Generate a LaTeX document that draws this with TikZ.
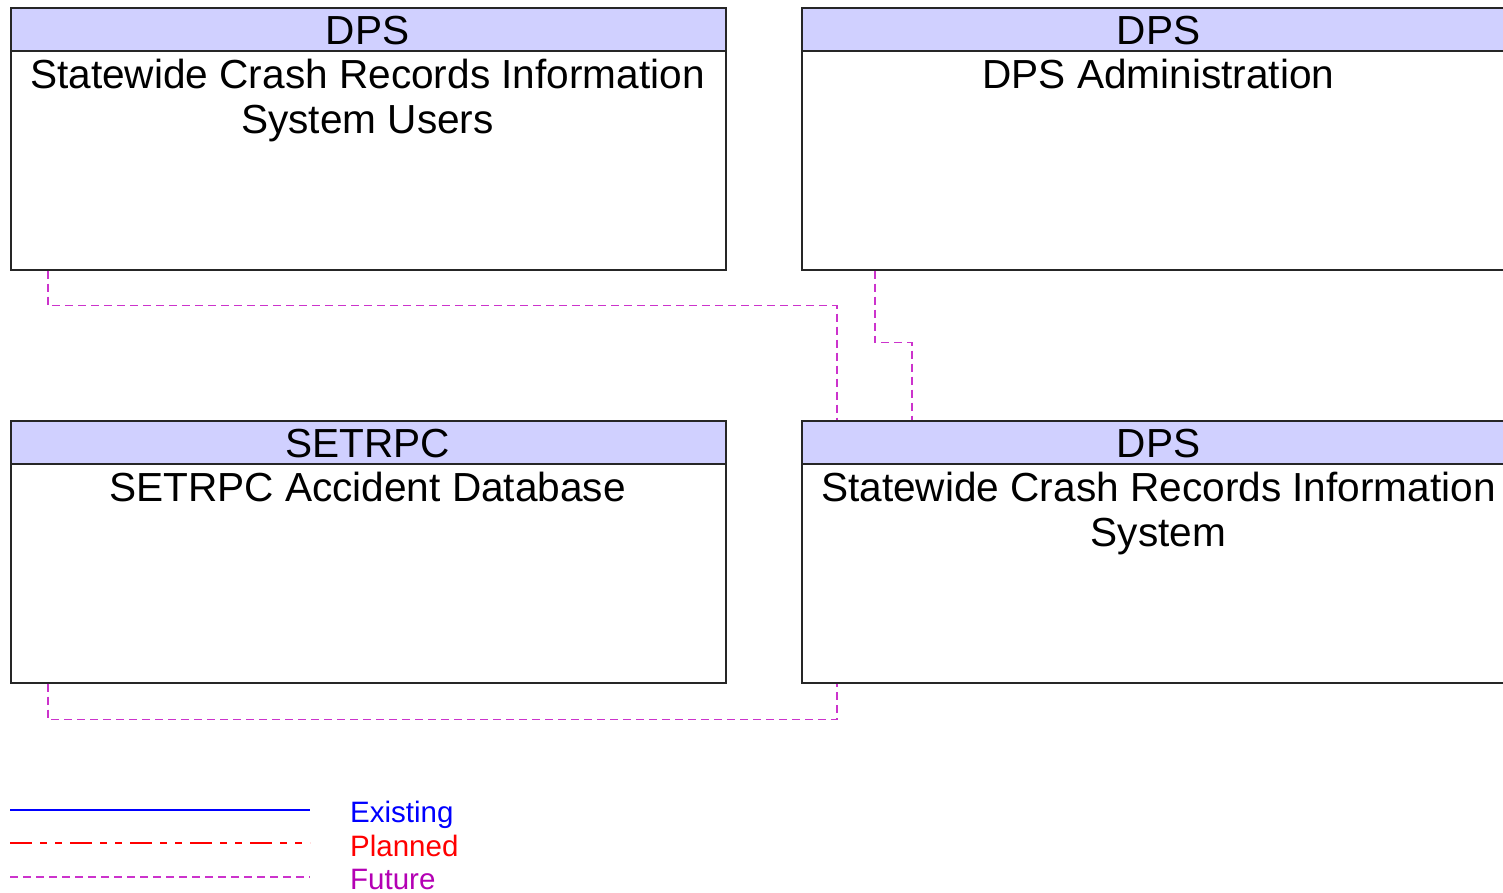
\documentclass[tikz,border=0pt]{standalone}
\usepackage{fontspec}
\setmainfont{Liberation Sans}
\usetikzlibrary{calc}
\definecolor{hdrfill}{RGB}{208,208,255}
\definecolor{futcol}{RGB}{204,51,204}
\definecolor{futtxt}{RGB}{180,0,180}
\tikzset{
  box/.style={draw=black!85, line width=1.5pt, fill=white, minimum width=715pt, minimum height=262pt, inner sep=0pt, anchor=north west},
  hdr/.style={draw=black!85, line width=1.5pt, fill=hdrfill, minimum width=715pt, minimum height=43pt, inner sep=0pt, anchor=north west},
  bigtext/.style={font=\fontsize{40.6}{45}\selectfont, inner sep=0pt, anchor=base},
  body/.style={bigtext},
  future/.style={draw=futcol, line width=1.3pt, dash pattern=on 8pt off 5pt},
  planned/.style={draw=red, line width=1.3pt, dash pattern=on 22pt off 8pt on 7pt off 8pt on 7pt off 8pt},
  existing/.style={draw=blue, line width=1.8pt},
  legtext/.style={anchor=base west, inner sep=0pt, font=\fontsize{29.5}{32}\selectfont}
}
\begin{document}
\begin{tikzpicture}[x=1pt,y=-1pt]
\clip (0,0) rectangle (1503,892);
\fill[white] (0,0) rectangle (1503,892);
% boxes
\node[box] (a) at (10,7) {};
\node[hdr] (ah) at (10,7) {};
\node[bigtext] (aht) at (367.5,44) {DPS};
\node[body] (at1) at (367.5,88) {Statewide Crash Records Information};
\node[body] (at2) at (367.5,133) {System Users};

\node[box] (b) at (801,7) {};
\node[hdr] (bh) at (801,7) {};
\node[bigtext] (bht) at (1158.5,44) {DPS};
\node[body] (bt1) at (1158.5,88) {DPS Administration};

\node[box] (c) at (10,420) {};
\node[hdr] (ch) at (10,420) {};
\node[bigtext] (cht) at (367.5,457) {SETRPC};
\node[body] (ct1) at (367.5,501) {SETRPC Accident Database};

\node[box] (d) at (801,420) {};
\node[hdr] (dh) at (801,420) {};
\node[bigtext] (dht) at (1158.5,457) {DPS};
\node[body] (dt1) at (1158.5,501) {Statewide Crash Records Information};
\node[body] (dt2) at (1158.5,546) {System};

% connectors
\draw[future] ([xshift=38pt]a.south west) -- ++(0,35) -| ([xshift=36pt]d.north west);
\draw[future] ([xshift=74pt]b.south west) -- ++(0,72) -| ([xshift=111pt]d.north west);
\draw[future] ([xshift=38pt]c.south west) -- ++(0,36) -| ([xshift=36pt]d.south west);

% legend
\coordinate (e1) at (10,810); \coordinate (e2) at (310,810);
\coordinate (p1) at (10,843); \coordinate (p2) at (310,843);
\coordinate (f1) at (10,877); \coordinate (f2) at (310,877);
\draw[existing] (e1) -- (e2);
\draw[planned] (p1) -- (p2);
\draw[future] (f1) -- (f2);
\node[legtext, text=blue] (le) at (350,822) {Existing};
\node[legtext, text=red] (lp) at (350,856) {Planned};
\node[legtext, text=futtxt] (lf) at (350,889) {Future};
\end{tikzpicture}
\end{document}
